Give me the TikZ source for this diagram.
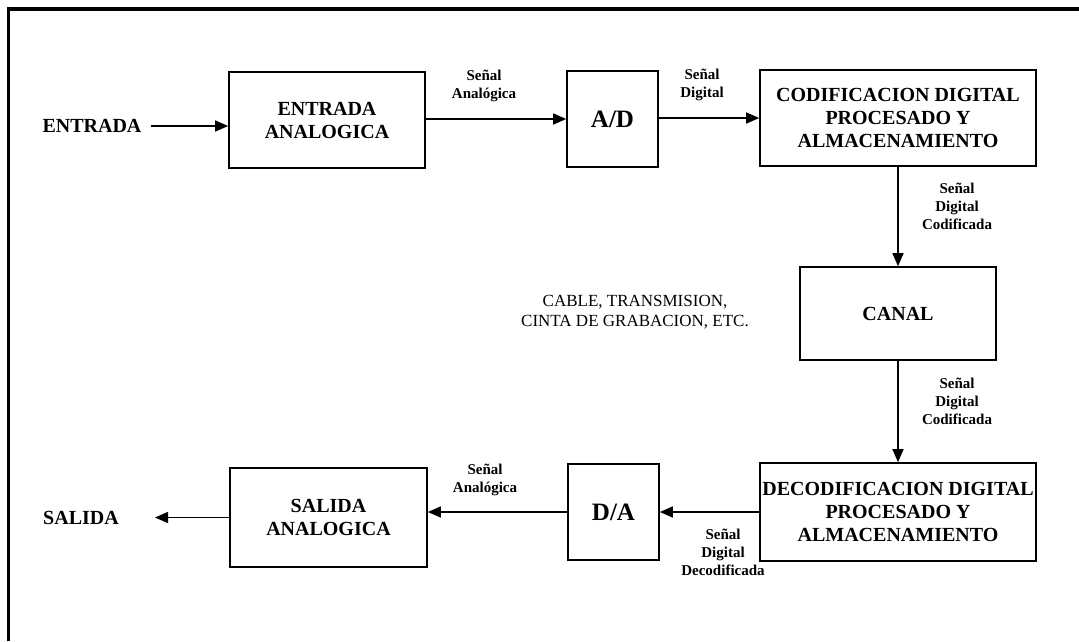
\documentclass[tikz,border=0pt]{standalone}
\usepackage{fontspec}
\setmainfont{Liberation Serif}
\usetikzlibrary{arrows.meta}

\begin{document}
\begin{tikzpicture}[x=1pt, y=-1pt,
		every node/.style={inner sep=0pt, align=center},
		block/.style={draw, line width=1.6pt, font=\bfseries\fontsize{20}{23}\selectfont},
		conv/.style={block, minimum width=91pt, minimum height=96pt, font=\bfseries\fontsize{25}{28}\selectfont},
		sig/.style={font=\bfseries\fontsize{15}{18}\selectfont},
		flow/.style={line width=1.4pt, -{Triangle[length=13pt,width=11pt]}}]
	
	\useasboundingbox (0,0) rectangle (1079,641);
	\draw[line width=3.5pt] (8.5,641) -- (8.5,9) -- (1079,9);
	
	% Nodes
	\node[font=\bfseries\fontsize{20}{23}\selectfont] (entrada) at (92,126) {ENTRADA};
	\node[block, minimum width=196pt, minimum height=96pt] (entana) at (327,120) {ENTRADA\\ANALOGICA};
	\node[conv] (ad) at (612.5,119) {A/D};
	\node[block, minimum width=276pt, minimum height=96pt] (cod) at (898,118) {CODIFICACION DIGITAL\\PROCESADO Y\\ALMACENAMIENTO};
	\node[block, minimum width=196pt, minimum height=93pt] (canal) at (898,313.5) {CANAL};
	\node[block, minimum width=276pt, minimum height=98pt] (decod) at (898,512) {DECODIFICACION DIGITAL\\PROCESADO Y\\ALMACENAMIENTO};
	\node[conv] (da) at (613.5,512) {D/A};
	\node[block, minimum width=197pt, minimum height=99pt] (salana) at (328.5,517.5) {SALIDA\\ANALOGICA};
	\node[font=\bfseries\fontsize{20}{23}\selectfont] (salida) at (81,518) {SALIDA};
	\coordinate (salend) at (155,517.5);
	
	\node[font=\fontsize{17}{20}\selectfont] (medio) at (635,312) {CABLE, TRANSMISION,\\CINTA DE GRABACION, ETC.};
	
	% Labels
	\node[sig] (s1) at (484,86) {Señal\\Analógica};
	\node[sig] (s2) at (702,85) {Señal\\Digital};
	\node[sig] (s3) at (957,206) {Señal\\Digital\\Codificada};
	\node[sig] (s4) at (957,401) {Señal\\Digital\\Codificada};
	\node[sig] (s5) at (723,552) {Señal\\Digital\\Decodificada};
	\node[sig] (s6) at (485,480) {Señal\\Analógica};
	
	% Edges
	\draw[flow, shorten <=9pt] (entrada.east) -- (entrada.east -| entana.west);
	\draw[flow] (entana.east |- ad) -- (ad.west);
	\draw[flow] (ad.east |- cod) -- (cod.west);
	\draw[flow] (cod.south) -- (canal.north);
	\draw[flow] (canal.south) -- (decod.north);
	\draw[flow] (decod.west) -- (da.east);
	\draw[flow] (da.west) -- (da.west -| salana.east);
	\draw[flow] (salana.west) -- (salend);
	
\end{tikzpicture}
\end{document}
